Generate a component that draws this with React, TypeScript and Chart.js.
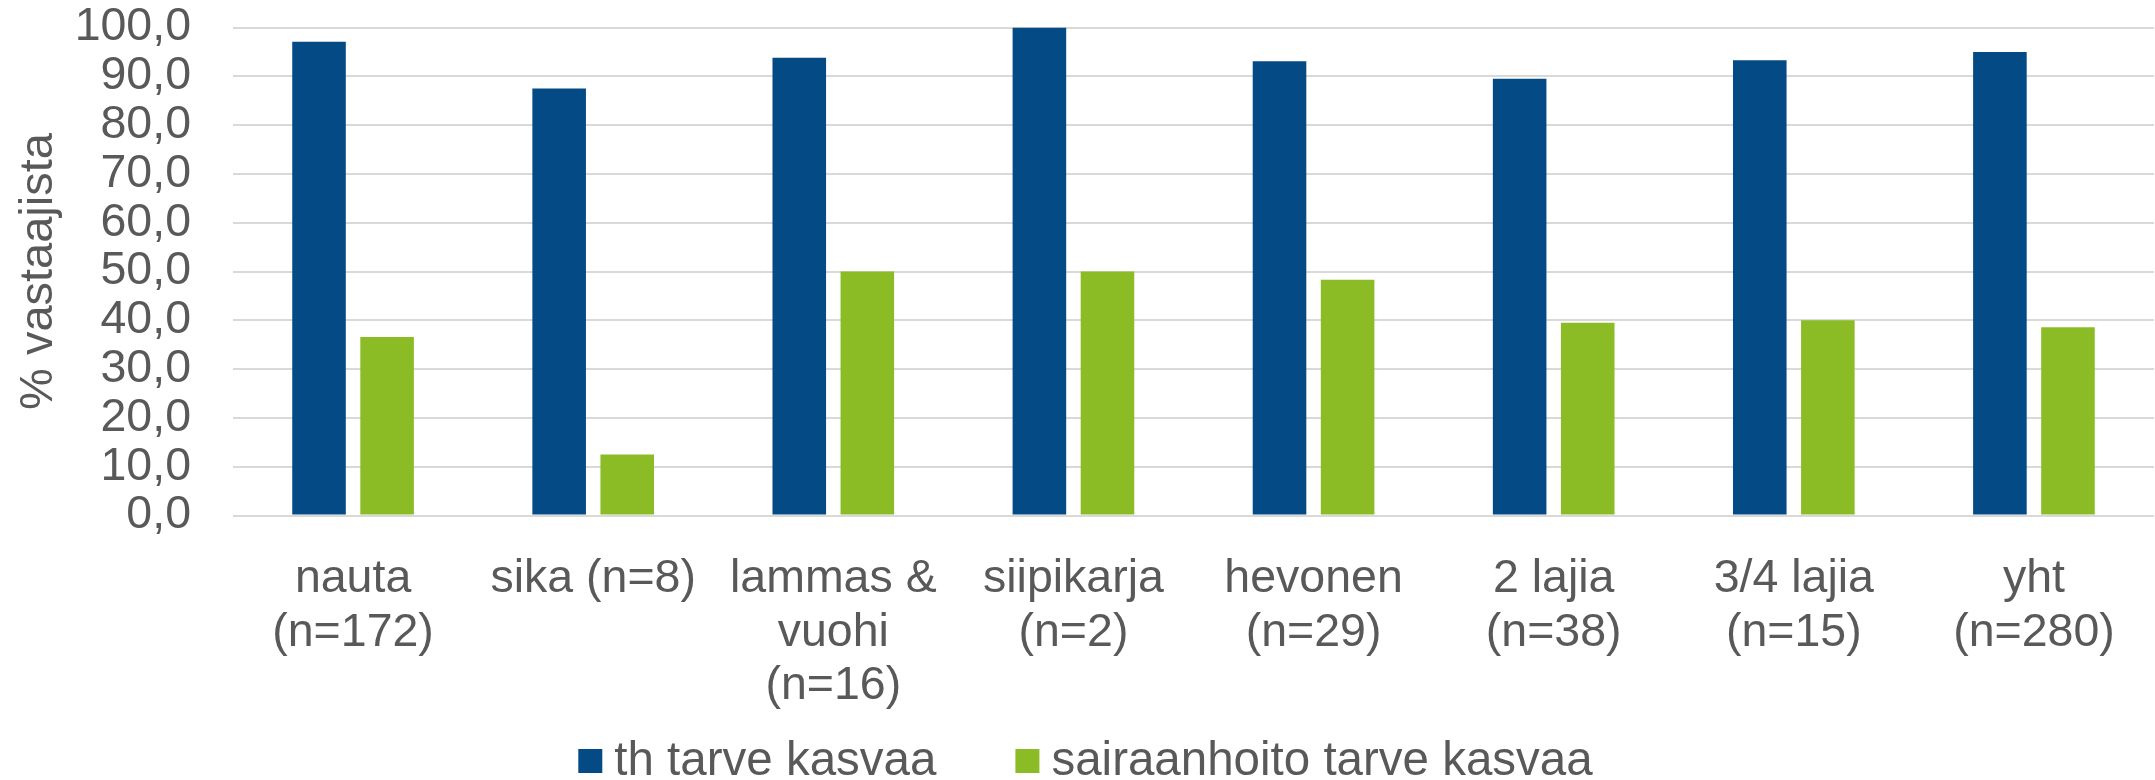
import React, { useEffect, useRef } from "react";
import { Chart, registerables } from "chart.js";

Chart.register(...registerables);

const categories: string[][] = [
  ["nauta", "(n=172)"],
  ["sika (n=8)"],
  ["lammas &", "vuohi", "(n=16)"],
  ["siipikarja", "(n=2)"],
  ["hevonen", "(n=29)"],
  ["2 lajia", "(n=38)"],
  ["3/4 lajia", "(n=15)"],
  ["yht", "(n=280)"],
];
const seriesNames = ["th tarve kasvaa", "sairaanhoito tarve kasvaa"];
const seriesColors = ["#044A84", "#8BBC25"];
const thValues = [97.1, 87.5, 93.8, 100.0, 93.1, 89.5, 93.3, 95.0];
const sairaanhoitoValues = [36.6, 12.5, 50.0, 50.0, 48.3, 39.5, 40.0, 38.6];
const yTickValues = [0, 10, 20, 30, 40, 50, 60, 70, 80, 90, 100];
const yTitle = "% vastaajista";

const FONT = "'Liberation Sans', Arial, Helvetica, sans-serif";
const TEXT = "#595959";

// Legend drawn below the axis labels (square, 12px gap, text; 79px between items)
const bottomLegend = {
  id: "bottomLegend",
  afterDraw(chart: any) {
    const ctx = chart.ctx as CanvasRenderingContext2D;
    ctx.save();
    ctx.font = `47.5px ${FONT}`;
    ctx.textBaseline = "middle";
    ctx.textAlign = "left";
    const box = 24;
    const gapText = 12;
    const gapItem = 79;
    const items = chart.data.datasets.map((ds: any) => ({
      text: ds.label as string,
      color: ds.backgroundColor as string,
      w: ctx.measureText(ds.label).width,
    }));
    const total =
      items.reduce((s: number, it: any) => s + box + gapText + it.w, 0) + gapItem * (items.length - 1);
    let x = chart.width / 2 + 8 - total / 2;
    const cy = chart.height - 19;
    for (const it of items) {
      ctx.fillStyle = it.color;
      ctx.fillRect(x, cy - box / 2, box, box);
      x += box + gapText;
      ctx.fillStyle = TEXT;
      ctx.fillText(it.text, x, cy + 1);
      x += it.w + gapItem;
    }
    ctx.restore();
  },
};

export default function App() {
  const ref = useRef<HTMLCanvasElement | null>(null);

  useEffect(() => {
    document.body.style.margin = "0";
    const canvas = ref.current;
    if (!canvas) return;
    const chart = new Chart(canvas, {
      type: "bar",
      data: {
        labels: categories,
        datasets: [
          {
            label: seriesNames[0],
            data: thValues,
            backgroundColor: seriesColors[0],
            borderWidth: 0,
            categoryPercentage: 0.567,
            barPercentage: 0.787,
          },
          {
            label: seriesNames[1],
            data: sairaanhoitoValues,
            backgroundColor: seriesColors[1],
            borderWidth: 0,
            categoryPercentage: 0.567,
            barPercentage: 0.787,
          },
        ],
      },
      options: {
        animation: false,
        responsive: false,
        devicePixelRatio: 1,
        layout: { autoPadding: false, padding: { left: 0, right: 1, top: 27.5, bottom: 0 } },
        plugins: {
          tooltip: { enabled: false },
          legend: { display: false },
        },
        scales: {
          x: {
            grid: { display: false, drawTicks: false },
            border: { display: false },
            ticks: {
              color: TEXT,
              font: { family: FONT, size: 46.5, lineHeight: 1.15 },
              padding: 37,
              maxRotation: 0,
              minRotation: 0,
              autoSkip: false,
            },
            afterFit: (scale: any) => {
              scale.height = 264.5;
              scale.paddingLeft = 0;
              scale.paddingRight = 0;
            },
          },
          y: {
            min: 0,
            max: 100,
            afterBuildTicks: (scale: any) => {
              scale.ticks = yTickValues.map((v) => ({ value: v }));
            },
            grid: { color: "#d9d9d9", lineWidth: 2, drawTicks: false },
            border: { display: false },
            ticks: {
              color: TEXT,
              autoSkip: false,
              font: { family: FONT, size: 46.5, lineHeight: 1 },
              padding: 42,
              callback: (v: any) => Number(v).toFixed(1).replace(".", ","),
            },
            title: {
              display: true,
              text: yTitle,
              color: TEXT,
              font: { family: FONT, size: 47, lineHeight: 1 },
              padding: { top: 15.5, bottom: 0 },
            },
            afterFit: (scale: any) => {
              scale.width = 233;
              scale.paddingTop = 0;
              scale.paddingBottom = 0;
            },
          },
        },
      },
      plugins: [bottomLegend],
    });
    return () => chart.destroy();
  }, []);

  return (
    <div style={{ position: "absolute", left: 0, top: 0, width: 2155, height: 780, background: "#fff" }}>
      <canvas ref={ref} width={2155} height={780} style={{ display: "block" }} />
    </div>
  );
}
